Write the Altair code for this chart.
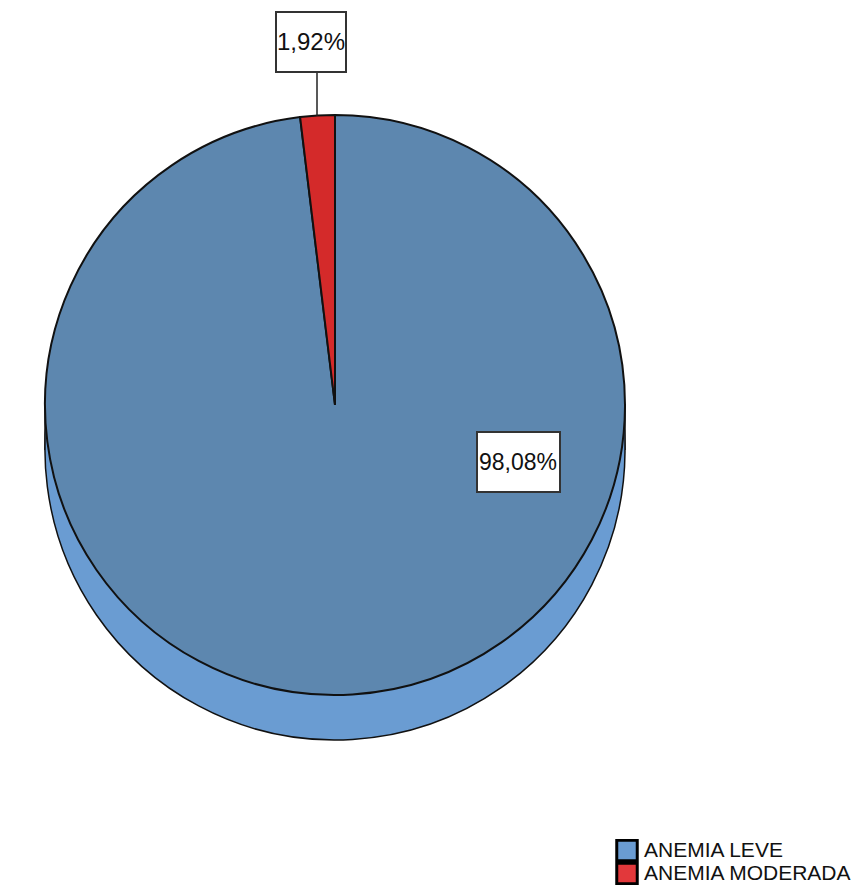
import altair as alt
import pandas as pd

categories = ["ANEMIA LEVE", "ANEMIA MODERADA"]
percentages = [98.08, 1.92]
order_idx = [0, 1]

top_colors = ["#5d87af", "#d42a2a"]
side_colors = ["#6a9cd2", "#e2383b"]

df = pd.DataFrame({"cat": categories, "pct": percentages, "idx": order_idx})

CX, CY, R, DEPTH = 327, 397, 290, 45

base = alt.Chart(df)

theta = alt.Theta("pct:Q", stack=True)
order = alt.Order("idx:O")

# 3D side (lighter), carries the legend
side = base.mark_arc(radius=R, stroke="#111", strokeWidth=1.5).encode(
    theta=theta,
    order=order,
    x=alt.value(CX),
    y=alt.value(CY + DEPTH),
    color=alt.Color(
        "cat:N",
        scale=alt.Scale(domain=categories, range=side_colors),
        legend=alt.Legend(
            title=None,
            orient="none",
            legendX=607,
            legendY=831,
            padding=0,
            symbolType="square",
            symbolSize=420,
            symbolStrokeColor="#000",
            symbolStrokeWidth=3,
            labelFont="Liberation Sans",
            labelFontSize=21,
            labelLimit=400,
            labelColor="#111",
            labelOffset=5,
            rowPadding=0,
            symbolOffset=0,
            clipHeight=23,
        ),
    ),
)

band = alt.Chart(df).transform_filter("datum.idx == 0").mark_rect(color=side_colors[0]).encode(
    x=alt.value(CX - R), x2=alt.value(CX + R), y=alt.value(CY), y2=alt.value(CY + DEPTH)
)
band_edges = alt.Chart(pd.DataFrame({"xe": [CX - R, CX + R]})).mark_rule(color="#111", strokeWidth=1.5).encode(
    x=alt.X("xe:Q", scale=None), y=alt.value(CY), y2=alt.value(CY + DEPTH)
)

top = base.mark_arc(radius=R, stroke="#111", strokeWidth=2).encode(
    theta=theta,
    order=order,
    x=alt.value(CX),
    y=alt.value(CY),
    color=alt.Color("cat:N", scale=alt.Scale(domain=categories, range=top_colors), legend=None),
)

lab = base.transform_calculate(
    label="replace(format(datum.pct, '.2f'), '.', ',') + '%'"
)

# small-slice label (outside, with leader line)
leader = lab.transform_filter("datum.idx == 1").mark_rule(color="#222", strokeWidth=1.5).encode(
    x=alt.value(309), y=alt.value(64), y2=alt.value(108)
)
box_small = lab.transform_filter("datum.idx == 1").mark_rect(
    fill="white", stroke="#333", strokeWidth=2
).encode(x=alt.value(268), x2=alt.value(338), y=alt.value(4), y2=alt.value(64))
text_small = lab.transform_filter("datum.idx == 1").mark_text(
    font="Liberation Sans", fontSize=24, color="#111", baseline="middle", align="center"
).encode(x=alt.value(303), y=alt.value(35), text="label:N")

box_big = lab.transform_filter("datum.idx == 0").mark_rect(
    fill="white", stroke="#333", strokeWidth=2
).encode(x=alt.value(469), x2=alt.value(552), y=alt.value(424), y2=alt.value(484))
text_big = lab.transform_filter("datum.idx == 0").mark_text(
    font="Liberation Sans", fontSize=23, color="#111", baseline="middle", align="center"
).encode(x=alt.value(510), y=alt.value(455), text="label:N")

chart = (
    alt.layer(side, band, band_edges, top, leader, box_small, text_small, box_big, text_big)
    .resolve_scale(color="independent")
    .properties(width=850, height=875, padding=0, background="white")
    .configure_view(stroke=None)
)

chart.save("out.html", embed_options={"renderer": "svg", "actions": False})
